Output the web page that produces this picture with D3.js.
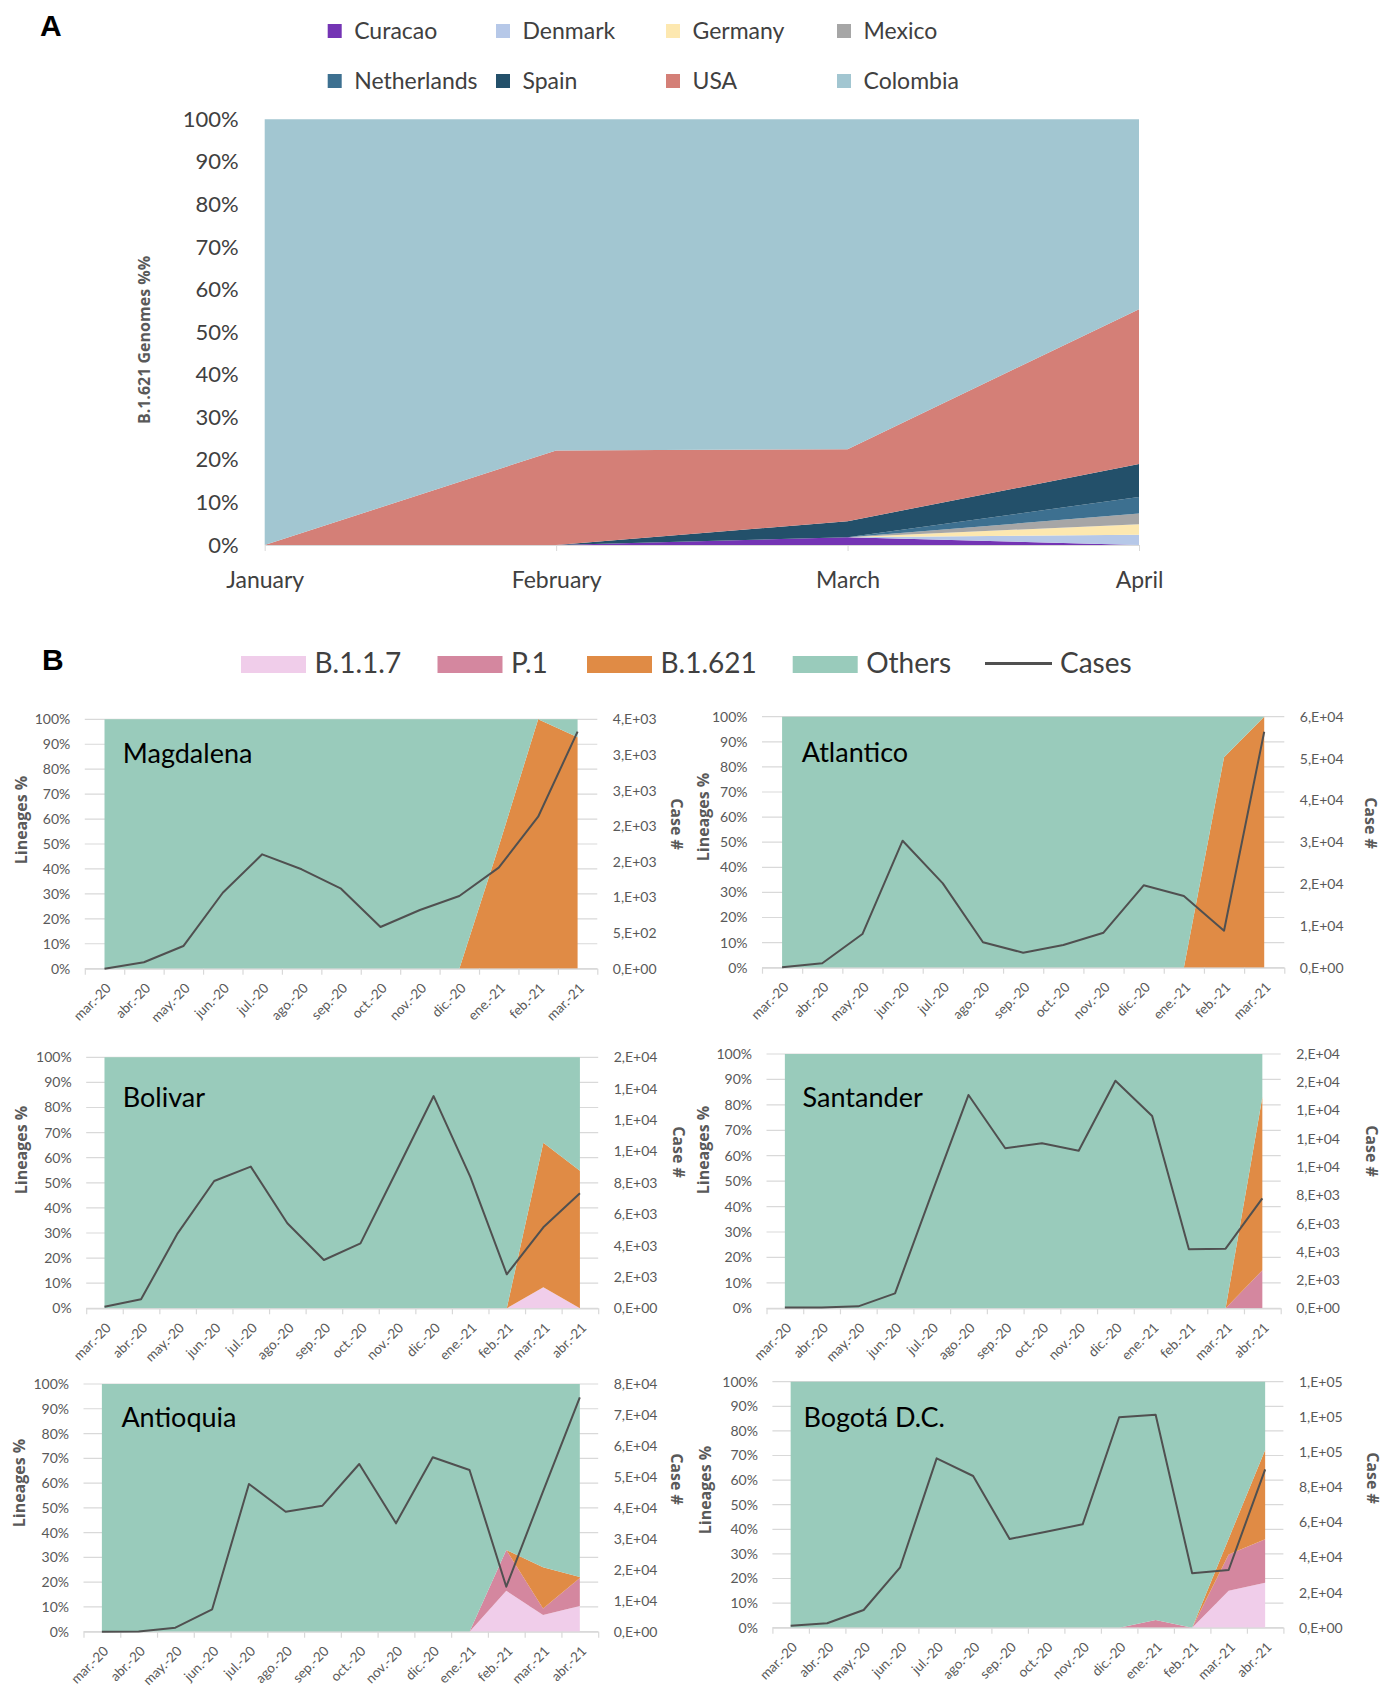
<!DOCTYPE html>
<html>
<title>B.1.621 lineages</title>
<style>
  body {
    margin: 0px;
    background: white;
  }
  svg {
    display: block;
  }
  text {
    font-family: Lato, "Open Sans", sans-serif;
  }
  .axis-title {
    font-family: "Open Sans", sans-serif;
    font-weight: bold;
    fill: #595959;
  }
  .panel-letter {
    font-family: "Liberation Sans", Arial, sans-serif;
    font-weight: bold;
    font-size: 30px;
    fill: #000;
  }
</style>
<script src="https://cdn.jsdelivr.net/npm/d3@7"></script>
<body>
<svg width="1396" height="1690"></svg>
<script>

// ---- panel A: origin of B.1.621 genomes ----
const monthsA = ["January", "February", "March", "April"];
const countries = ["Curacao", "Denmark", "Germany", "Mexico", "Netherlands", "Spain", "USA", "Colombia"];
const curacao     = [0, 0, 1.8, 0];
const denmark     = [0, 0, 0, 2.4];
const germany     = [0, 0, 0, 2.5];
const mexico      = [0, 0, 0, 2.5];
const netherlands = [0, 0, 0, 3.9];
const spain       = [0, 0, 3.8, 7.7];
const usa         = [0, 22.2, 16.9, 36.4];
const colombia    = [100, 77.8, 77.5, 44.6];
const countryColors = ["#7434b4", "#b6c8e8", "#fde8b0", "#a6a6a6", "#3d7090", "#23506a", "#d47f77", "#a2c6d1"];

// ---- panel B: lineages by department ----
const monthsB = ["mar.-20", "abr.-20", "may.-20", "jun.-20", "jul.-20", "ago.-20", "sep.-20",
                 "oct.-20", "nov.-20", "dic.-20", "ene.-21", "feb.-21", "mar.-21", "abr.-21"];
const lineages = ["B.1.1.7", "P.1", "B.1.621", "Others"];
const lineageColors = ["#f0cdea", "#d4879f", "#e08b45", "#99cbbb"];
const departments = ["Magdalena", "Atlantico", "Bolivar", "Santander", "Antioquia", "Bogotá D.C."];
const monthCounts = [13, 13, 14, 14, 14, 14];

const magdalenaCases  = [0, 90, 318, 1066, 1605, 1395, 1123, 585, 824, 1020, 1418, 2133, 3326];
const magdalenaB117   = [0, 0, 0, 0, 0, 0, 0, 0, 0, 0, 0, 0, 0];
const magdalenaP1     = [0, 0, 0, 0, 0, 0, 0, 0, 0, 0, 0, 0, 0];
const magdalenaB1621  = [0, 0, 0, 0, 0, 0, 0, 0, 0, 0, 49, 100, 92.8];
const magdalenaOthers = [100, 100, 100, 100, 100, 100, 100, 100, 100, 100, 51, 0, 7.2];

const atlanticoCases  = [100, 1050, 8050, 30360, 20170, 6070, 3590, 5420, 8370, 19700, 17140, 8840, 56410];
const atlanticoB117   = [0, 0, 0, 0, 0, 0, 0, 0, 0, 0, 0, 0, 0];
const atlanticoP1     = [0, 0, 0, 0, 0, 0, 0, 0, 0, 0, 0, 0, 0];
const atlanticoB1621  = [0, 0, 0, 0, 0, 0, 0, 0, 0, 0, 0, 83.8, 100];
const atlanticoOthers = [100, 100, 100, 100, 100, 100, 100, 100, 100, 100, 100, 16.2, 0];

const bolivarCases  = [100, 574, 4780, 8115, 9030, 5420, 3080, 4140, 8815, 13530, 8390, 2167, 5160, 7330];
const bolivarB117   = [0, 0, 0, 0, 0, 0, 0, 0, 0, 0, 0, 0, 8.4, 0];
const bolivarP1     = [0, 0, 0, 0, 0, 0, 0, 0, 0, 0, 0, 0, 0, 0];
const bolivarB1621  = [0, 0, 0, 0, 0, 0, 0, 0, 0, 0, 0, 0, 57.6, 54.8];
const bolivarOthers = [100, 100, 100, 100, 100, 100, 100, 100, 100, 100, 100, 100, 34, 45.2];

const santanderCases  = [50, 50, 140, 1060, 8140, 15100, 11325, 11680, 11155, 16110, 13610, 4176, 4220, 7785];
const santanderB117   = [0, 0, 0, 0, 0, 0, 0, 0, 0, 0, 0, 0, 0, 0];
const santanderP1     = [0, 0, 0, 0, 0, 0, 0, 0, 0, 0, 0, 0, 0, 15];
const santanderB1621  = [0, 0, 0, 0, 0, 0, 0, 0, 0, 0, 0, 0, 0, 68];
const santanderOthers = [100, 100, 100, 100, 100, 100, 100, 100, 100, 100, 100, 100, 100, 17];

const antioquiaCases  = [0, 100, 1290, 7230, 47700, 38760, 40700, 54160, 35000, 56320, 52220, 14530, 45340, 75700];
const antioquiaB117   = [0, 0, 0, 0, 0, 0, 0, 0, 0, 0, 0, 16.5, 6.7, 10.4];
const antioquiaP1     = [0, 0, 0, 0, 0, 0, 0, 0, 0, 0, 0, 16.5, 2.7, 11.3];
const antioquiaB1621  = [0, 0, 0, 0, 0, 0, 0, 0, 0, 0, 0, 0, 16.6, 0.4];
const antioquiaOthers = [100, 100, 100, 100, 100, 100, 100, 100, 100, 100, 100, 67, 74, 77.9];

const bogotaCases  = [1140, 2500, 10070, 34370, 96400, 86330, 50480, 54630, 58840, 119740, 121220, 30960, 32840, 90140];
const bogotaB117   = [0, 0, 0, 0, 0, 0, 0, 0, 0, 0, 0, 0, 15, 18.3];
const bogotaP1     = [0, 0, 0, 0, 0, 0, 0, 0, 0, 0, 3.1, 0, 14.8, 17.7];
const bogotaB1621  = [0, 0, 0, 0, 0, 0, 0, 0, 0, 0, 0, 0, 6.4, 36.2];
const bogotaOthers = [100, 100, 100, 100, 100, 100, 100, 100, 100, 100, 96.9, 100, 63.8, 27.8];

// right axis of each department
const caseMax  = [3500, 60000, 16000, 18000, 80000, 140000];
const caseStep = [500, 10000, 2000, 2000, 10000, 20000];

const deptSeries = [
  [magdalenaB117, magdalenaP1, magdalenaB1621, magdalenaOthers, magdalenaCases],
  [atlanticoB117, atlanticoP1, atlanticoB1621, atlanticoOthers, atlanticoCases],
  [bolivarB117, bolivarP1, bolivarB1621, bolivarOthers, bolivarCases],
  [santanderB117, santanderP1, santanderB1621, santanderOthers, santanderCases],
  [antioquiaB117, antioquiaP1, antioquiaB1621, antioquiaOthers, antioquiaCases],
  [bogotaB117, bogotaP1, bogotaB1621, bogotaOthers, bogotaCases]
];

// layout (pixels): [left, right, top, bottom] of each small plot
const boxes = [
  [84.8, 597.3, 719.3, 968.7],
  [762, 1284.3, 716.7, 967.7],
  [86.2, 598.2, 1057.3, 1308.3],
  [766.5, 1280.7, 1054, 1308.3],
  [83.5, 598.2, 1384, 1631.7],
  [772.4, 1283.4, 1381.7, 1627.7]
];
const namePos = [[122.8, 763], [801.7, 761.7], [122.8, 1107.3], [802.6, 1107.3], [121.4, 1426.7], [803.5, 1426.7]];
const lineageTitlePos = [[22.3, 820], [703.5, 817], [22.3, 1150], [703.5, 1150], [20, 1483], [705.8, 1490]];
const caseTitlePos = [[676, 824], [1370, 823], [678.6, 1152], [1370.8, 1151], [676.3, 1479], [1372, 1478]];

const svg = d3.select("svg");

svg.append("text").attr("class", "panel-letter").attr("x", 40).attr("y", 36).text("A");
svg.append("text").attr("class", "panel-letter").attr("x", 42).attr("y", 670).text("B");

drawPanelA();
drawLegendB();
for (let i = 0; i < departments.length; i++) drawDepartment(i);

function drawPanelA() {
  const g = svg.append("g");
  const x = d3.scalePoint().domain(monthsA).range([264.7, 1139]);
  const y = d3.scaleLinear().domain([0, 100]).range([545, 119.3]);
  const cols = [curacao, denmark, germany, mexico, netherlands, spain, usa, colombia];

  const rows = monthsA.map((m, i) => {
    const r = {month: m};
    countries.forEach((c, j) => r[c] = cols[j][i]);
    return r;
  });
  const stacked = d3.stack().keys(countries)(rows);
  const area = d3.area()
      .x(d => x(d.data.month))
      .y0(d => y(d[0]))
      .y1(d => y(d[1]));

  g.selectAll(".layer")
    .data(stacked)
    .join("path")
      .attr("class", "layer")
      .attr("d", area)
      .attr("fill", (d, i) => countryColors[i]);

  const xAxis = g.append("g")
      .attr("transform", "translate(0,545)")
      .call(d3.axisBottom(x).tickSize(6).tickPadding(21).tickSizeOuter(0));
  xAxis.select(".domain").attr("stroke", "#d9d9d9");
  xAxis.selectAll(".tick line").attr("stroke", "#d9d9d9");
  xAxis.selectAll("text").attr("font-size", 23).attr("fill", "#404040")
      .style("font-family", "Lato, sans-serif");

  const yAxis = g.append("g")
      .attr("transform", "translate(264.7,0)")
      .call(d3.axisLeft(y).tickValues(d3.range(0, 101, 10)).tickFormat(d => d + "%")
        .tickSize(0).tickPadding(26));
  yAxis.select(".domain").remove();
  yAxis.selectAll("text").attr("font-size", 22).attr("fill", "#404040")
      .style("font-family", "Lato, sans-serif");

  g.append("text")
      .attr("class", "axis-title")
      .attr("transform", "translate(145,340) rotate(-90)")
      .attr("text-anchor", "middle")
      .attr("dy", "0.32em")
      .attr("font-size", 16)
      .text("B.1.621 Genomes %%");

  // legend, two rows of four
  const legend = g.append("g");
  const colX = [327.7, 496, 666, 837];
  countries.forEach((c, i) => {
    const lx = colX[i % 4];
    const ly = i < 4 ? 24 : 74;
    legend.append("rect").attr("x", lx).attr("y", ly).attr("width", 14).attr("height", 14)
        .attr("fill", countryColors[i]);
    legend.append("text").attr("x", lx + 26.5).attr("y", ly + 14.5)
        .attr("font-size", 23).attr("fill", "#404040").text(c);
  });
}

function drawLegendB() {
  const g = svg.append("g");
  const swX = [241, 437.5, 587, 792.7];
  lineages.forEach((l, i) => {
    g.append("rect").attr("x", swX[i]).attr("y", 656).attr("width", 65).attr("height", 17)
        .attr("fill", lineageColors[i]);
    g.append("text").attr("x", swX[i] + 73.5).attr("y", 673)
        .attr("font-size", 28).attr("fill", "#404040").text(l);
  });
  g.append("line").attr("x1", 985).attr("x2", 1052).attr("y1", 663.5).attr("y2", 663.5)
      .attr("stroke", "#505050").attr("stroke-width", 3);
  g.append("text").attr("x", 1060).attr("y", 673)
      .attr("font-size", 28).attr("fill", "#404040").text("Cases");
}

function sciFmt(v) {
  if (v === 0) return "0,E+00";
  const [m, e] = v.toExponential(0).split("e");
  const ex = +e;
  return m + ",E" + (ex < 0 ? "-" : "+") + String(Math.abs(ex)).padStart(2, "0");
}

function drawDepartment(i) {
  const [x0, x1, y0, y1] = boxes[i];
  const n = monthCounts[i];
  const labels = monthsB.slice(0, n);
  const series = deptSeries[i];
  const cases = series[4];

  const g = svg.append("g");
  const x = d3.scaleBand().domain(labels).range([x0, x1]);
  const cx = d => x(d) + x.bandwidth() / 2;
  const y = d3.scaleLinear().domain([0, 100]).range([y1, y0]);
  const yR = d3.scaleLinear().domain([0, caseMax[i]]).range([y1, y0]);

  // gridlines
  g.append("g")
    .selectAll("line")
    .data(d3.range(0, 101, 10))
    .join("line")
      .attr("x1", x0).attr("x2", x1)
      .attr("y1", d => y(d)).attr("y2", d => y(d))
      .attr("stroke", "#d9d9d9").attr("stroke-width", 1.2);

  const rows = labels.map((m, k) => {
    const r = {month: m};
    lineages.forEach((l, j) => r[l] = series[j][k]);
    return r;
  });
  const stacked = d3.stack().keys(lineages)(rows);
  const area = d3.area()
      .x(d => cx(d.data.month))
      .y0(d => y(d[0]))
      .y1(d => y(d[1]));

  g.selectAll(".layer")
    .data(stacked)
    .join("path")
      .attr("class", "layer")
      .attr("d", area)
      .attr("fill", (d, j) => lineageColors[j]);

  // bottom axis: tick marks between categories, labels at centres
  const edges = d3.scaleLinear().domain([0, n]).range([x0, x1]);
  const ticks = g.append("g")
      .attr("transform", `translate(0,${y1})`)
      .call(d3.axisBottom(edges).tickValues(d3.range(n + 1)).tickFormat("")
        .tickSize(6).tickSizeOuter(0));
  ticks.select(".domain").attr("stroke", "#d9d9d9").attr("stroke-width", 1.2);
  ticks.selectAll(".tick line").attr("stroke", "#d9d9d9").attr("stroke-width", 1.2);

  const xLab = g.append("g")
      .attr("transform", `translate(0,${y1})`)
      .call(d3.axisBottom(x).tickSize(0));
  xLab.select(".domain").remove();
  xLab.selectAll("text")
      .attr("y", 0)
      .attr("dy", "0.35em")
      .attr("text-anchor", "end")
      .attr("transform", "translate(4,17) rotate(-45)")
      .attr("font-size", 13.5)
      .attr("fill", "#595959");

  const yAxis = g.append("g")
      .attr("transform", `translate(${x0},0)`)
      .call(d3.axisLeft(y).tickValues(d3.range(0, 101, 10)).tickFormat(d => d + "%")
        .tickSize(0).tickPadding(14.5));
  yAxis.select(".domain").remove();
  yAxis.selectAll("text").attr("font-size", 14).attr("fill", "#595959");

  const rAxis = g.append("g")
      .attr("transform", `translate(${x1},0)`)
      .call(d3.axisRight(yR).tickValues(d3.range(0, caseMax[i] + 1, caseStep[i])).tickFormat(sciFmt)
        .tickSize(0).tickPadding(15.5));
  rAxis.select(".domain").remove();
  rAxis.selectAll("text").attr("font-size", 14).attr("fill", "#595959");

  // cases line
  g.append("path")
      .datum(cases)
      .attr("fill", "none")
      .attr("stroke", "#505050")
      .attr("stroke-width", 2)
      .attr("stroke-linejoin", "round")
      .attr("d", d3.line().x((d, k) => cx(labels[k])).y(d => yR(d)));

  g.append("text")
      .attr("x", namePos[i][0]).attr("y", namePos[i][1])
      .attr("font-size", 27).attr("fill", "#000")
      .text(departments[i]);

  g.append("text")
      .attr("class", "axis-title")
      .attr("transform", `translate(${lineageTitlePos[i][0]},${lineageTitlePos[i][1]}) rotate(-90)`)
      .attr("text-anchor", "middle").attr("dy", "0.32em").attr("font-size", 16)
      .text("Lineages %");

  g.append("text")
      .attr("class", "axis-title")
      .attr("transform", `translate(${caseTitlePos[i][0]},${caseTitlePos[i][1]}) rotate(90)`)
      .attr("text-anchor", "middle").attr("dy", "0.32em").attr("font-size", 16)
      .text("Case #");
}
</script>
</body>
</html>
